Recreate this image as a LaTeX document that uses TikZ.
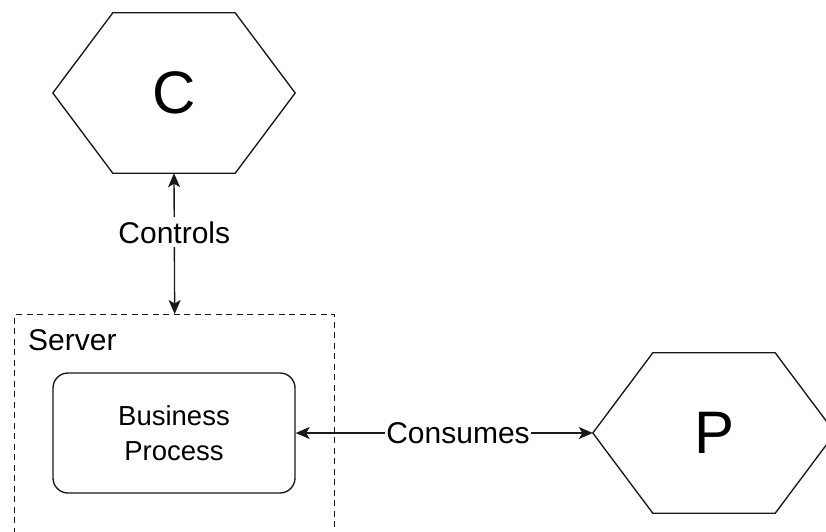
\documentclass[tikz,border=0pt]{standalone}
\usepackage{fontspec}
\setmainfont{Liberation Sans}
\usetikzlibrary{arrows.meta,calc}

\begin{document}
\begin{tikzpicture}[x=1pt,y=-1pt,
  >={Stealth[length=14pt,width=12pt,inset=3.5pt]},
  every node/.style={font=\fontsize{30}{36}\selectfont},
  line/.style={line width=1.35pt,draw=black!90},
  hexbox/.style={minimum width=242,minimum height=160,inner sep=0pt,
                 font=\fontsize{60}{72}\selectfont},
  procbox/.style={line,rounded corners=15pt,minimum width=242,minimum height=120,
                  align=center,inner sep=0pt,font=\fontsize{27.5}{35}\selectfont},
  serverbox/.style={line,dash pattern=on 6pt off 4.5pt,minimum width=320,
                    minimum height=260,anchor=north west,inner sep=0pt},
  lbl/.style={fill=white,inner xsep=1pt,inner ysep=4pt},
  biarrow/.style={line,<->}
]
\useasboundingbox (0,0) rectangle (826,531);
\clip (0,0) rectangle (826,531);
\fill[white] (0,0) rectangle (826,531);

% hexagonal actors
\node[hexbox] (C) at (174,93) {C};
\node[hexbox] (P) at (714,433) {P};
\foreach \h in {C,P}
  \draw[line] (\h.west) -- ($(\h.north west)+(60,0)$) -- ($(\h.north east)+(-60,0)$)
    -- (\h.east) -- ($(\h.south east)+(-60,0)$) -- ($(\h.south west)+(60,0)$) -- cycle;

% server boundary with its process
\node[serverbox] (server) at (14,314) {};
\node[anchor=base west,inner sep=0pt] (servername) at (28,350) {Server};
\node[procbox] (bp) at (174,433) {Business\\Process};

% connectors
\draw[biarrow] (C.south) -- (server.north)
  node[lbl,pos=0.42] (ctl) {Controls};
\draw[biarrow] (bp.east) -- (P.west);
\node[lbl,inner ysep=2pt] (cons) at (458,433) {Consumes};
\end{tikzpicture}
\end{document}
